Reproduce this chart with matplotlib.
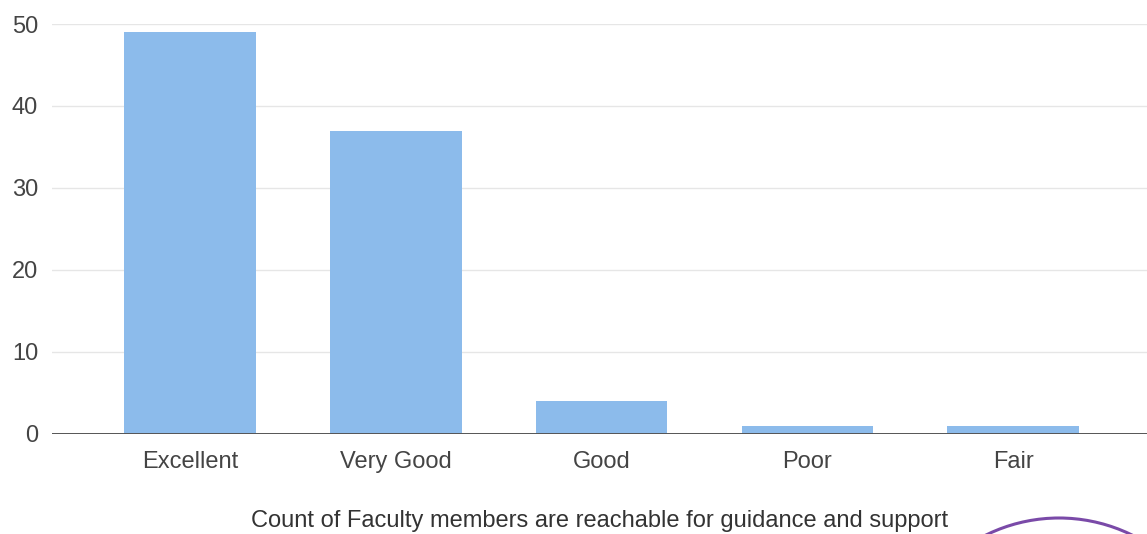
import matplotlib
matplotlib.use("Agg")
import matplotlib.pyplot as plt
from matplotlib.patches import Ellipse

categories = ["Excellent", "Very Good", "Good", "Poor", "Fair"]
counts = [49, 37, 4, 1, 1]
yticks = [0, 10, 20, 30, 40, 50]
xlabel = "Count of Faculty members are reachable for guidance and support"

plt.rcParams['font.family'] = ['Liberation Sans', 'DejaVu Sans']

W, H = 1147, 534
fig = plt.figure(figsize=(W / 100, H / 100), dpi=100)
ax = fig.add_axes([52 / W, 100 / H, 1 - 52 / W, (434 - 24) / H])

x = list(range(len(categories)))
ax.bar(x, counts, width=0.64, color="#8cbbeb", zorder=2)
ax.set_xlim(-0.67, 4.65)
ax.set_ylim(0, 50)
ax.set_yticks(yticks)
ax.set_yticklabels([str(v) for v in yticks])
ax.set_xticks(x)
ax.set_xticklabels(categories)
ax.grid(axis="y", color="#e6e6e6", linewidth=1, zorder=0)
ax.axhline(0, color="#555555", linewidth=1.4, zorder=3)
for s in ax.spines.values():
    s.set_visible(False)
ax.tick_params(axis="both", length=0, labelsize=17, colors="#444444")
ax.tick_params(axis="y", pad=10)
ax.tick_params(axis="x", pad=12)
ax.set_xlabel(xlabel, fontsize=17, color="#333333", labelpad=27)

fig.add_artist(Ellipse((1059 / W, (534 - 683) / H), 330 / W, 330 / H,
                       transform=fig.transFigure, fill=False,
                       edgecolor="#7a4aa8", linewidth=2.2))

fig.savefig("out.png", dpi=100)
